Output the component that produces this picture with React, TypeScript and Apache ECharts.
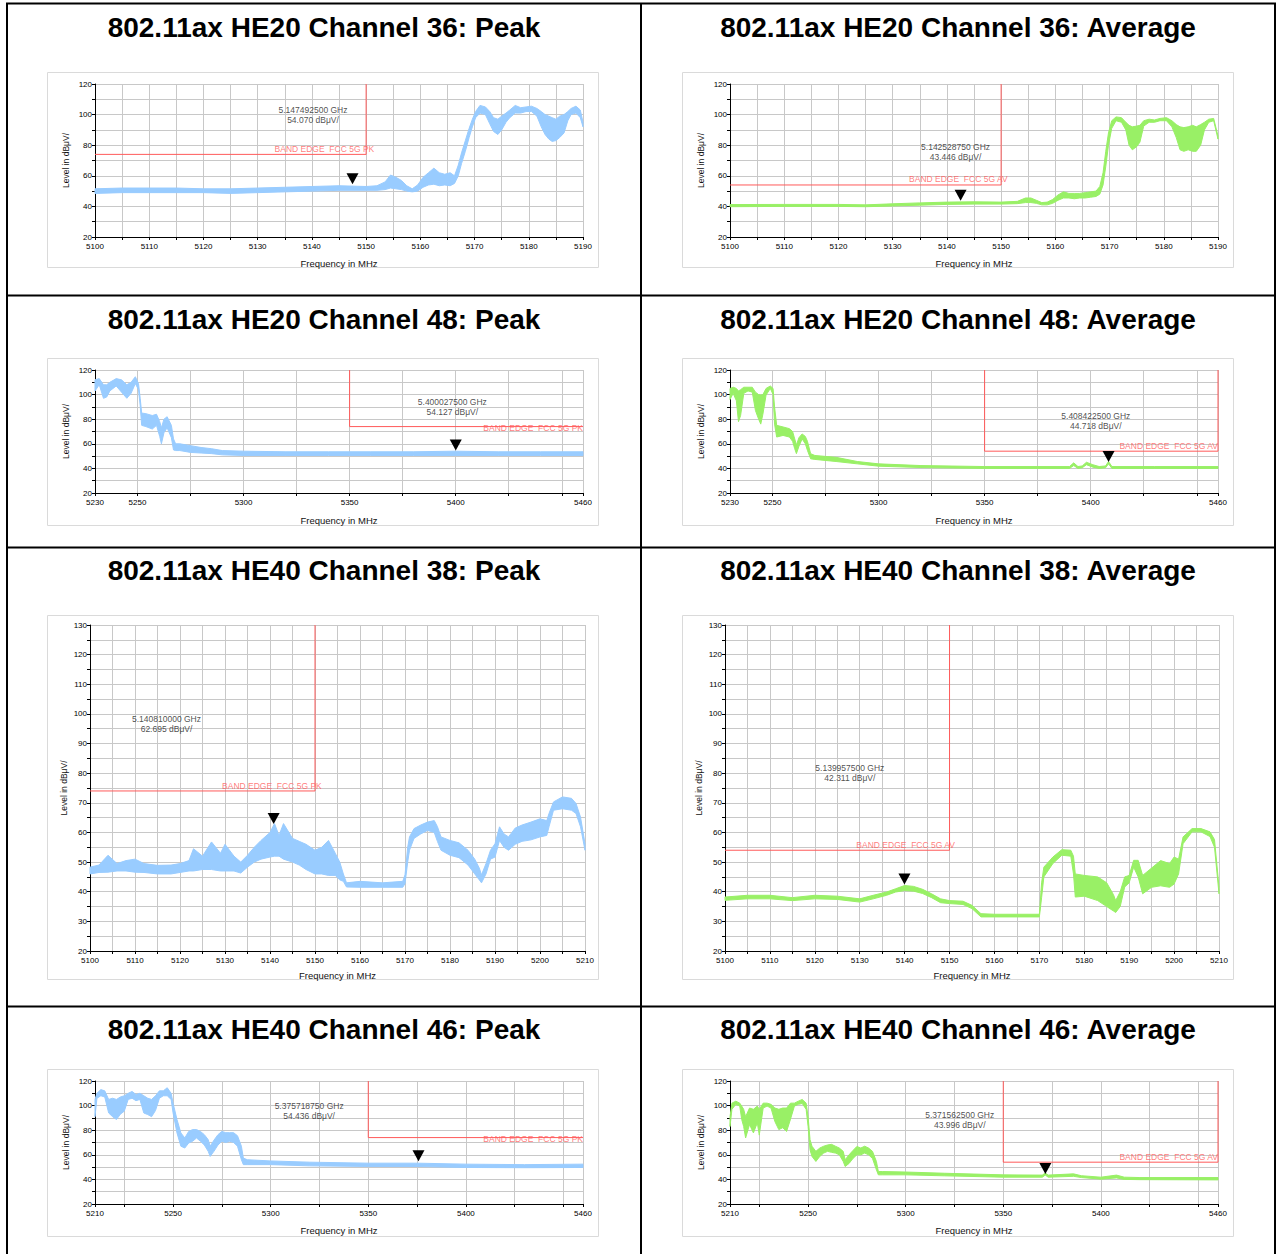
import React, { useEffect, useRef } from 'react';
import * as echarts from 'echarts';

// ---------- texts ----------
const titles = [
  '802.11ax HE20 Channel 36: Peak',
  '802.11ax HE20 Channel 36: Average',
  '802.11ax HE20 Channel 48: Peak',
  '802.11ax HE20 Channel 48: Average',
  '802.11ax HE40 Channel 38: Peak',
  '802.11ax HE40 Channel 38: Average',
  '802.11ax HE40 Channel 46: Peak',
  '802.11ax HE40 Channel 46: Average',
];
const xAxisName = 'Frequency in MHz';
const yAxisName = 'Level in dBμV/';
const limitTextPK = 'BAND EDGE  FCC 5G PK';
const limitTextAV = 'BAND EDGE  FCC 5G AV';

// ---------- limits (dBμV/) ----------
const pkLimit = 74;
const avLimit = 54;

// ---------- markers ----------
const markerFreqs = [5147.4925, 5142.52875, 5400.0275, 5408.4225, 5140.81, 5139.9575, 5375.71875, 5371.5625];
const markerLevels = [54.07, 43.446, 54.127, 44.718, 62.695, 42.311, 54.436, 43.996];

// ---------- axis tick lists for the wide spans ----------
const ch48Ticks = [5230, 5250, 5275, 5300, 5325, 5350, 5375, 5400, 5425, 5450, 5460];
const ch48Labels = [5230, 5250, 5300, 5350, 5400, 5460];
const ch46Ticks = [5210, 5225, 5250, 5275, 5300, 5325, 5350, 5375, 5400, 5425, 5450, 5460];
const ch46Labels = [5210, 5250, 5300, 5350, 5400, 5460];

// ---------- trace envelopes (MHz, low / high level) ----------
// Panel 1: HE20 Ch36 Peak
const p1Freq = [5100, 5105, 5110, 5115, 5120, 5125, 5130, 5135, 5140, 5145, 5150, 5152, 5153.5, 5154.5, 5155.5, 5156.5, 5157.5, 5158.5, 5159.5, 5160.5, 5161.5, 5162.5, 5163.5, 5164.5, 5165.5, 5166.3, 5167, 5167.6, 5168.3, 5169, 5169.6, 5170.2, 5171, 5172, 5172.8, 5173.5, 5174.3, 5175, 5175.8, 5176.5, 5177.5, 5178.5, 5179.5, 5180.5, 5181.5, 5182.3, 5183, 5183.7, 5184.3, 5185, 5185.7, 5186.5, 5187.2, 5187.8, 5188.7, 5189.5, 5190];
const p1Lo = [48.5, 49, 49, 49, 49, 48.5, 49, 49.5, 50, 50.5, 50.5, 50.5, 51, 52, 51.5, 51, 50, 49.5, 50, 52.5, 54, 54.5, 53.5, 54, 53.5, 55, 60, 68, 76, 85, 92, 98, 101, 100, 94, 89, 87, 90, 95, 98, 101, 101, 102, 102, 99, 92, 87, 84, 82.5, 83, 85, 88, 96, 100, 101, 98, 92];
const p1Hi = [51.5, 52, 52, 52, 51.5, 51.5, 52, 52.5, 53, 53.5, 53, 53.5, 56, 60.5, 59, 57, 53.5, 51.5, 54, 59, 62, 65, 62, 61, 62, 60, 67, 75, 83, 91, 97, 102, 106, 105, 102, 98, 97, 99, 101, 103, 106, 104.5, 105, 105.5, 104, 102, 100, 99, 98, 97, 99, 100, 102, 104, 105.5, 103, 95];

// Panel 2: HE20 Ch36 Average
const p2Freq = [5100, 5110, 5120, 5125, 5130, 5135, 5140, 5145, 5150, 5153, 5154.5, 5155.5, 5156.5, 5157.5, 5158.5, 5159.5, 5160.5, 5161.5, 5162.5, 5163.5, 5164.5, 5165.5, 5166.5, 5167.5, 5168.2, 5168.8, 5169.3, 5169.8, 5170.4, 5171.2, 5172.2, 5173, 5173.6, 5174.2, 5175, 5175.6, 5176.3, 5177.3, 5178.3, 5179.3, 5180.5, 5181.5, 5182.3, 5183, 5183.7, 5184.5, 5185.3, 5186, 5186.8, 5187.5, 5188.3, 5189.2, 5190];
const p2Lo = [39.8, 40, 40, 39.8, 40.3, 40.8, 41.3, 41.5, 41.5, 41.8, 42.5, 42.5, 42, 41, 41, 42, 44, 45.5, 45.5, 45, 45.5, 45.5, 46, 46.5, 48, 54, 66, 80, 91, 96, 95, 90, 80, 77, 79, 82, 92.5, 95, 95, 96, 96, 92, 85, 77, 76, 77, 76, 76, 80, 90, 95, 96, 84];
const p2Hi = [41.2, 41.3, 41.3, 41, 41.7, 42.3, 42.8, 43, 42.8, 43.3, 45.5, 45.5, 44, 42.5, 42.8, 44.5, 47.5, 49.5, 48.5, 48.5, 48.5, 49, 49.5, 50, 53, 62, 76, 88, 96, 98.5, 98, 95, 93, 92, 92.5, 93, 96, 97, 96.5, 97.5, 98, 96, 93.5, 92, 91.5, 92, 93, 92, 93.5, 95, 97, 97.5, 86];

// Panel 3: HE20 Ch48 Peak
const p3Freq = [5230, 5232, 5234, 5235.5, 5237, 5240, 5242.5, 5245, 5247, 5249, 5250.5, 5251.3, 5252, 5254, 5257, 5259, 5260.5, 5261.3, 5262.5, 5264, 5266, 5267, 5268, 5270, 5275, 5280, 5285, 5290, 5300, 5320, 5340, 5360, 5380, 5400, 5420, 5440, 5460];
const p3Lo = [103, 108, 97, 98, 103, 107, 102, 97, 101, 109, 104, 91, 75, 74, 72, 75, 66, 60, 69, 73, 65, 55, 54.5, 54.5, 53, 52.5, 52, 51, 50.5, 50.5, 50.5, 50.5, 50.5, 50.5, 50.5, 50.5, 50.5];
const p3Hi = [112, 113, 108, 108, 110, 113, 112, 108, 110, 114.5, 109, 97, 85, 84.5, 83, 84, 78, 73, 80, 82, 75, 64, 60, 60, 58.5, 57, 56, 54.5, 54, 53.5, 53.5, 53.5, 53.5, 54, 53.5, 53.5, 53.5];

// Panel 4: HE20 Ch48 Average
const p4Freq = [5230, 5231.5, 5233, 5234, 5235, 5236.5, 5238.5, 5240.5, 5242, 5243.5, 5244.5, 5245.5, 5247, 5249, 5250.3, 5251, 5252, 5255, 5258, 5259.5, 5260.5, 5261.3, 5262.5, 5264, 5265.5, 5266.5, 5268, 5270, 5280, 5290, 5300, 5320, 5350, 5390, 5392, 5394, 5396, 5398, 5401, 5404, 5407, 5408.4, 5410, 5430, 5460];
const p4Lo = [96, 101, 95, 78, 83, 101, 103, 102, 87, 80, 76, 84, 99.6, 105, 100, 76, 65.5, 66.8, 65.5, 62, 56, 52, 58, 64, 60, 54.6, 47.8, 47.3, 45.6, 43.7, 41.8, 40.7, 40, 40, 42.3, 40, 40.5, 43, 41, 40, 40.5, 43.7, 40, 40, 40];
const p4Hi = [105, 106, 105, 103, 104, 106, 106, 106, 102, 100, 99.6, 100, 105, 107, 105, 90, 75, 73.7, 72.3, 70, 64, 59, 65, 68, 66, 62, 52, 50.5, 49, 45.6, 43.7, 42.3, 41.5, 41.5, 44.5, 41.5, 42, 45, 43, 41.5, 42, 45.6, 41.5, 41.5, 41.5];

// Panel 5: HE40 Ch38 Peak
const p5Freq = [5100, 5102, 5104, 5106, 5108, 5110, 5112, 5115, 5118, 5120, 5122, 5123, 5125, 5127, 5129, 5130, 5132, 5133.5, 5135, 5136.5, 5138, 5140, 5141, 5142, 5143, 5145, 5146.5, 5148, 5150, 5151.5, 5153, 5154.5, 5155.5, 5156.3, 5157, 5160, 5165, 5169.5, 5170, 5170.6, 5171, 5172, 5173.5, 5175, 5176.5, 5177.2, 5178, 5180, 5182, 5184, 5185.5, 5186.5, 5187, 5188, 5189, 5190, 5191, 5192, 5193, 5194.5, 5196, 5198, 5200, 5201.5, 5202, 5203, 5205, 5207, 5208, 5209, 5210];
const p5Lo = [46, 46.5, 46.6, 47, 47, 46.6, 46.5, 46, 46, 46.5, 47, 47, 47.5, 47.5, 47, 47, 47, 46.3, 48.3, 50, 51, 51.7, 52, 52, 51, 50, 49, 47.5, 46, 46, 45.5, 45.5, 44, 43.5, 41.6, 41.5, 41.5, 41.5, 42.7, 50, 54, 58, 59.5, 60.7, 60, 57, 54, 52.3, 51.5, 49, 46, 44, 43, 46, 51, 51.7, 57.3, 55, 54, 56, 57, 57.5, 58.5, 59, 61.9, 67.5, 68, 67.5, 66.4, 61.9, 54];
const p5Hi = [48.3, 49, 52.3, 49.5, 50.5, 51, 49.5, 48.9, 49, 49.5, 50.5, 54.5, 52, 56.8, 53, 56, 52, 50, 52.3, 55, 57.3, 60, 63, 59, 63, 58, 57, 56, 54, 55, 57.3, 53, 50, 46, 43, 43.5, 43, 43.5, 45.7, 55, 58.5, 61.3, 62.5, 63.5, 64, 62, 58.5, 57.3, 56.5, 54, 51, 48, 45.7, 49.5, 54, 56.2, 61.9, 59.5, 58.5, 61.5, 62.5, 63.5, 64.6, 64, 66.4, 70.3, 72, 71.5, 69.8, 65.2, 56.2];

// Panel 6: HE40 Ch38 Average
const p6Freq = [5100, 5105, 5110, 5115, 5120, 5125, 5130, 5133, 5136, 5138, 5140, 5142, 5144, 5146, 5148, 5150, 5153, 5155, 5157, 5160, 5165, 5170, 5170.5, 5171, 5173, 5175, 5177, 5177.6, 5178, 5180, 5183, 5185, 5186.5, 5187, 5188, 5189, 5190, 5191, 5192, 5193, 5195, 5197, 5199, 5200, 5201, 5202, 5204, 5206, 5208, 5209, 5210];
const p6Lo = [37.1, 37.6, 37.6, 37, 37.6, 37.4, 36.5, 37.6, 38.8, 39.9, 40.4, 40.2, 39.4, 38, 36.3, 36, 35.7, 34.3, 31.5, 31.5, 31.5, 31.5, 38, 45, 49.5, 52.3, 52, 46, 38.2, 38.5, 37, 35, 33.5, 33, 35, 41.6, 43, 48.3, 45, 39.3, 41.5, 42, 41.5, 42.6, 46, 56.2, 60.2, 60.2, 58.6, 55, 39.3];
const p6Hi = [38.2, 38.8, 38.8, 38, 38.8, 38.5, 37.6, 38.8, 39.9, 41, 42.1, 41.8, 40.8, 39.3, 37.6, 37, 36.8, 35.4, 32.6, 32.4, 32.4, 32.4, 43, 48.3, 51.7, 54.2, 54, 52, 46, 45.5, 45, 43, 39, 37, 40, 45, 45.5, 50.6, 50.6, 45.5, 48, 50.5, 49.5, 51.7, 51, 58.5, 61.3, 61.3, 60.2, 57.6, 41.6];

// Panel 7: HE40 Ch46 Peak
const p7Freq = [5210, 5211, 5213, 5215, 5217, 5219, 5221, 5223, 5225, 5227, 5229, 5231, 5233, 5235, 5237, 5239, 5241, 5243, 5245, 5247, 5249, 5250, 5252, 5254, 5256, 5258, 5260, 5262, 5264, 5266, 5268, 5269, 5271, 5273, 5275, 5277, 5279, 5281, 5283, 5285, 5286, 5288, 5300, 5320, 5350, 5375, 5400, 5430, 5460];
const p7Lo = [91, 106, 108, 107, 94, 91, 88.7, 93, 95.5, 105, 106, 104, 105, 94, 92.7, 91, 96, 106, 108, 108, 105, 94, 77.8, 67, 65.5, 69.6, 71, 73.7, 71, 68, 62.8, 58.7, 63, 68, 71, 70, 71, 70, 67, 56, 52, 52, 52, 51, 50.5, 50.5, 49.7, 49.5, 49.7];
const p7Hi = [105, 110, 113, 112, 105, 106, 105, 107, 108, 110, 111.5, 109, 110, 108, 106, 105, 108, 112, 112, 114.5, 110, 102, 88.7, 77.8, 73.7, 79, 80.5, 80.5, 79, 76.4, 72.3, 67, 72, 76.4, 79, 78, 78, 78, 75.5, 67, 57.3, 56, 55, 54, 53.2, 53.2, 52.4, 52, 52.4];

// Panel 8: HE40 Ch46 Average
const p8Freq = [5210, 5211, 5213, 5215, 5216, 5217, 5218, 5220, 5222, 5224, 5225, 5227, 5229, 5231, 5233, 5235, 5237, 5239, 5241, 5243, 5245, 5247, 5249, 5250, 5251, 5252, 5254, 5256, 5258, 5260, 5262, 5264, 5266, 5268, 5269, 5271, 5273, 5275, 5277, 5279, 5281, 5283, 5285, 5286, 5288, 5300, 5320, 5350, 5370, 5371.5, 5373, 5386, 5390, 5400, 5408, 5412, 5420, 5460];
const p8Lo = [83, 97, 101, 99.6, 88.7, 83, 73.7, 84.6, 77.8, 86, 76, 98, 99.6, 98, 87, 80.5, 82, 79, 89, 99.6, 101, 101.7, 97, 83, 64, 58.7, 54.6, 58.7, 61.4, 62.8, 62, 61.4, 60, 54.6, 50.5, 53, 57, 60, 60, 61.4, 60, 57, 47.8, 43.7, 43.7, 43.7, 42.9, 41.8, 41.8, 43.5, 41.8, 42.5, 41.5, 40.2, 41.2, 40, 39.8, 39.6];
const p8Hi = [91, 102, 103.6, 102, 99.6, 97, 91, 98, 97, 99.6, 97, 102, 102, 101, 98, 97, 98, 98, 102, 102, 103.6, 105, 102, 91, 72.3, 67, 62.8, 65.5, 67, 68, 68.5, 67, 65.5, 62.8, 56, 60, 63.5, 66.8, 65.5, 67, 65.5, 62.8, 54.6, 46.4, 46.4, 46, 45, 43.7, 43.5, 45.2, 43.5, 44.5, 43, 41.8, 43.5, 41.8, 41.5, 41.5];

// ---------- styling ----------
const FONT = '"Liberation Sans", Arial, Helvetica, sans-serif';
const PEAK_COLOR = '#99ccff';
const AVG_COLOR = '#99f066';
const RED = '#ff5a5a';
const GRID_COLOR = '#c8c8c8';

type Panel = {
  freq: number[]; lo: number[]; hi: number[]; avg: boolean;
  xMin: number; xMax: number; ticks?: number[]; labels?: number[];
  yMax: number; yStep: number; yLab: number;
  side: 'left' | 'right';
  g: number[]; frame: number[]; xGap: number; yGap: number;
  ann: number[]; limLab: number[];
  titleXY: number[];
};

const panels: Panel[] = [
  { freq: p1Freq, lo: p1Lo, hi: p1Hi, avg: false, xMin: 5100, xMax: 5190, yMax: 120, yStep: 10, yLab: 20, side: 'left',
    g: [95, 84, 488, 153], frame: [47, 72, 551, 195], xGap: 21, yGap: 25, ann: [5140.2, 99.5], limLab: [5151.5, 77.8], titleXY: [324, 27] },
  { freq: p2Freq, lo: p2Lo, hi: p2Hi, avg: true, xMin: 5100, xMax: 5190, yMax: 120, yStep: 10, yLab: 20, side: 'left',
    g: [730, 84, 488, 153], frame: [682, 72, 551, 195], xGap: 21, yGap: 25, ann: [5141.6, 75.4], limLab: [5151.2, 57.8], titleXY: [958, 27] },
  { freq: p3Freq, lo: p3Lo, hi: p3Hi, avg: false, xMin: 5230, xMax: 5460, ticks: ch48Ticks, labels: ch48Labels, yMax: 120, yStep: 10, yLab: 20, side: 'right',
    g: [95, 370, 488, 123], frame: [47, 358, 551, 167], xGap: 22, yGap: 25, ann: [5398.4, 89.8], limLab: [5460, 72.5], titleXY: [324, 319] },
  { freq: p4Freq, lo: p4Lo, hi: p4Hi, avg: true, xMin: 5230, xMax: 5460, ticks: ch48Ticks, labels: ch48Labels, yMax: 120, yStep: 10, yLab: 20, side: 'right',
    g: [730, 370, 488, 123], frame: [682, 358, 551, 167], xGap: 22, yGap: 25, ann: [5402.4, 78.6], limLab: [5460, 58], titleXY: [958, 319] },
  { freq: p5Freq, lo: p5Lo, hi: p5Hi, avg: false, xMin: 5100, xMax: 5210, yMax: 130, yStep: 5, yLab: 10, side: 'left',
    g: [90, 625, 495, 326], frame: [47, 615, 551, 364], xGap: 19, yGap: 22, ann: [5117, 96.6], limLab: [5151.5, 75.7], titleXY: [324, 570] },
  { freq: p6Freq, lo: p6Lo, hi: p6Hi, avg: true, xMin: 5100, xMax: 5210, yMax: 130, yStep: 5, yLab: 10, side: 'left',
    g: [725, 625, 494, 326], frame: [682, 615, 551, 364], xGap: 19, yGap: 22, ann: [5127.8, 80.2], limLab: [5151.2, 55.6], titleXY: [958, 570] },
  { freq: p7Freq, lo: p7Lo, hi: p7Hi, avg: false, xMin: 5210, xMax: 5460, ticks: ch46Ticks, labels: ch46Labels, yMax: 120, yStep: 10, yLab: 20, side: 'right',
    g: [95, 1081, 488, 123], frame: [47, 1069, 551, 167], xGap: 21, yGap: 25, ann: [5319.7, 95.5], limLab: [5460, 72.5], titleXY: [324, 1029] },
  { freq: p8Freq, lo: p8Lo, hi: p8Hi, avg: true, xMin: 5210, xMax: 5460, ticks: ch46Ticks, labels: ch46Labels, yMax: 120, yStep: 10, yLab: 20, side: 'right',
    g: [730, 1081, 488, 123], frame: [682, 1069, 551, 167], xGap: 21, yGap: 25, ann: [5327.7, 87.9], limLab: [5460, 58], titleXY: [958, 1029] },
];

function buildOption() {
  const grid: any[] = [];
  const xAxis: any[] = [];
  const yAxis: any[] = [];
  const series: any[] = [];
  const graphic: any[] = [];

  panels.forEach((p, k) => {
    grid.push({ left: p.g[0], top: p.g[1], width: p.g[2], height: p.g[3], containLabel: false, outerBoundsMode: 'none' });

    const xa: any = {
      type: 'value', gridIndex: k, min: p.xMin, max: p.xMax,
      name: xAxisName, nameLocation: 'middle', nameGap: p.xGap, nameMoveOverlap: false,
      nameTextStyle: { fontSize: 9.5, color: '#111', fontFamily: FONT },
      axisLine: { show: true, onZero: false, lineStyle: { color: '#000', width: 1 } },
      axisTick: { show: true, length: 3, lineStyle: { color: '#000', width: 1 } },
      splitLine: { show: true, lineStyle: { color: GRID_COLOR, width: 1 } },
      axisLabel: { fontSize: 8, color: '#000', margin: 5, fontFamily: FONT },
    };
    if (p.ticks) {
      xa.axisTick.customValues = p.ticks;
      xa.axisLabel.customValues = p.labels;
      xa.axisLabel.formatter = (v: number) => String(v);
    } else {
      xa.interval = 5;
      xa.axisLabel.formatter = (v: number) => (v % 10 === 0 ? String(v) : '');
    }
    xAxis.push(xa);

    yAxis.push({
      type: 'value', gridIndex: k, min: 20, max: p.yMax, interval: p.yStep,
      name: yAxisName, nameLocation: 'middle', nameGap: p.yGap, nameMoveOverlap: false,
      nameTextStyle: { fontSize: 8.5, color: '#111', fontFamily: FONT },
      axisLine: { show: true, onZero: false, lineStyle: { color: '#000', width: 1 } },
      axisTick: { show: true, length: 3, lineStyle: { color: '#000', width: 1 } },
      splitLine: { show: true, lineStyle: { color: GRID_COLOR, width: 1 } },
      axisLabel: {
        fontSize: 8, color: '#000', margin: 3, fontFamily: FONT,
        formatter: (v: number) => (v % p.yLab === 0 ? String(v) : ''),
      },
    });

    const color = p.avg ? AVG_COLOR : PEAK_COLOR;
    const fr = p.freq, lo = p.lo, hi = p.hi;
    series.push({
      type: 'custom', xAxisIndex: k, yAxisIndex: k, silent: true, z: 2,
      data: [[fr[0], lo[0]]],
      renderItem: (_params: any, api: any) => {
        const pts: number[][] = [];
        for (let i = 0; i < fr.length; i++) pts.push(api.coord([fr[i], hi[i]]));
        for (let i = fr.length - 1; i >= 0; i--) pts.push(api.coord([fr[i], lo[i]]));
        return {
          type: 'polygon',
          shape: { points: pts },
          style: { fill: color, stroke: color, lineWidth: 1, lineJoin: 'round' },
        };
      },
    });

    const L = p.avg ? avLimit : pkLimit;
    let limitPts: number[][];
    if (p.side === 'left') {
      limitPts = [[p.xMin, L], [5150, L], [5150, p.yMax]];
    } else {
      limitPts = [[5350, p.yMax], [5350, L], [p.xMax, L]];
      if (p.avg) limitPts.push([p.xMax, p.yMax]);
    }
    series.push({
      type: 'line', xAxisIndex: k, yAxisIndex: k, data: limitPts, symbol: 'none', silent: true, clip: false, z: 3,
      lineStyle: { color: RED, width: 1 },
    });

    series.push({
      type: 'scatter', xAxisIndex: k, yAxisIndex: k, silent: true, z: 6,
      data: [p.limLab], symbolSize: 0,
      label: {
        show: true, position: 'left', distance: 0,
        formatter: p.avg ? limitTextAV : limitTextPK,
        color: RED, fontSize: 8.5, fontFamily: FONT,
      },
    });

    series.push({
      type: 'scatter', xAxisIndex: k, yAxisIndex: k, silent: true, z: 5,
      data: [[markerFreqs[k], markerLevels[k]]],
      symbol: 'path://M0,0L12,0L6,11Z', symbolSize: [12, 11], symbolOffset: [0, -6],
      itemStyle: { color: '#000', opacity: 1 },
    });

    const annText = `${(markerFreqs[k] / 1000).toFixed(9)} GHz\n${markerLevels[k].toFixed(3)} dBμV/`;
    series.push({
      type: 'scatter', xAxisIndex: k, yAxisIndex: k, silent: true, z: 6,
      data: [p.ann], symbolSize: 0,
      label: {
        show: true, position: 'inside', formatter: annText,
        color: '#222', fontSize: 8.5, lineHeight: 10, fontFamily: FONT, align: 'center',
      },
    });

    graphic.push({
      type: 'rect', z: -10, silent: true,
      shape: { x: p.frame[0] + 0.5, y: p.frame[1] + 0.5, width: p.frame[2], height: p.frame[3] },
      style: { fill: 'none', stroke: '#dadada', lineWidth: 1 },
    });
    graphic.push({
      type: 'text', silent: true, x: p.titleXY[0], y: p.titleXY[1],
      style: {
        text: titles[k], fill: '#000', fontSize: 28, fontWeight: 'bold', fontFamily: FONT,
        align: 'center', verticalAlign: 'middle',
      },
    });
  });

  // table borders
  const lines = [
    [7, 3, 7, 1254], [641, 3, 641, 1254], [1275, 3, 1275, 1254],
    [6, 3.5, 1276, 3.5], [6, 295.5, 1276, 295.5], [6, 547.5, 1276, 547.5], [6, 1006.5, 1276, 1006.5],
  ];
  lines.forEach((l) => {
    graphic.push({
      type: 'line', silent: true, z: 10,
      shape: { x1: l[0], y1: l[1], x2: l[2], y2: l[3] },
      style: { stroke: '#000', lineWidth: 2 },
    });
  });

  return {
    animation: false,
    backgroundColor: '#fff',
    grid, xAxis, yAxis, series, graphic,
  };
}

export default function App() {
  const ref = useRef<HTMLDivElement>(null);
  useEffect(() => {
    if (!ref.current) return;
    const chart = echarts.init(ref.current, undefined, { renderer: 'svg' });
    chart.setOption(buildOption() as any);
    return () => chart.dispose();
  }, []);
  return (
    <div
      ref={ref}
      style={{ position: 'absolute', left: 0, top: 0, width: 1276, height: 1254, background: '#fff' }}
    />
  );
}
